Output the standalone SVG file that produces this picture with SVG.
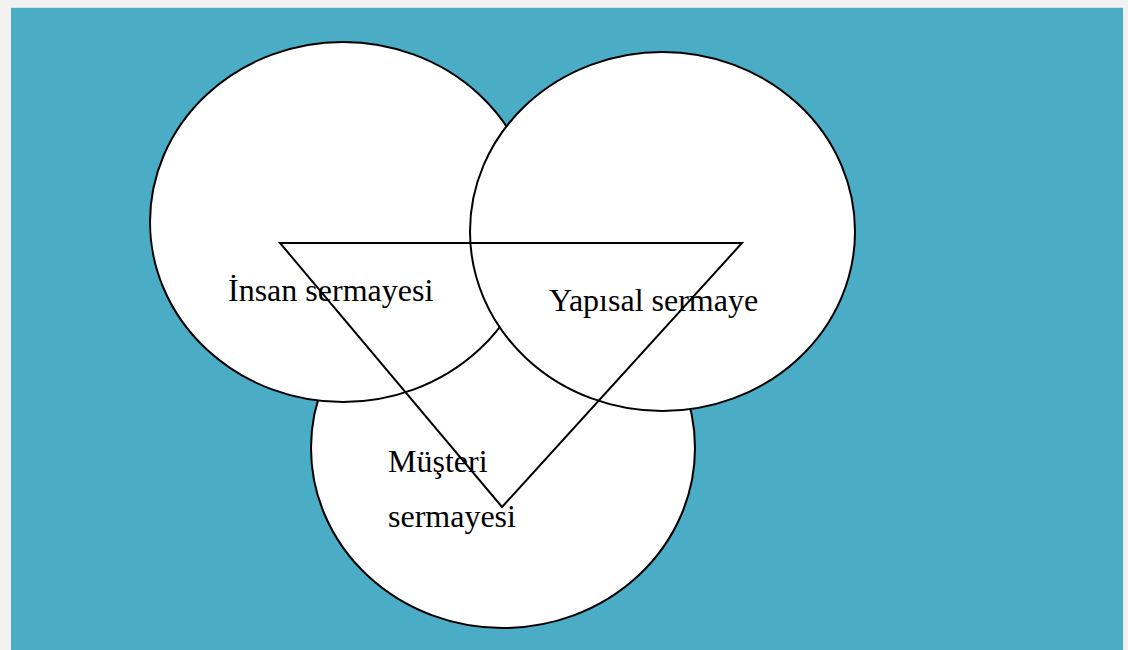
<svg xmlns="http://www.w3.org/2000/svg" width="1128" height="650" viewBox="0 0 1128 650">
<style>
.c{fill:#ffffff;stroke:#000000;stroke-width:2}
.t{font-family:"Liberation Serif","Times New Roman",serif;font-size:32px;fill:#000000}
</style>
<rect x="0" y="0" width="1128" height="650" fill="#f2f2f2"/>
<rect x="11" y="7" width="1112" height="643" fill="#4bacc6"/>
<line x1="11" y1="7.5" x2="1123" y2="7.5" stroke="#cfe3ea" stroke-width="1"/>
<g id="musteri">
<ellipse class="c" cx="503" cy="448" rx="192" ry="180"/>
</g>
<g id="insan">
<ellipse class="c" cx="343" cy="222" rx="193" ry="180"/>
</g>
<g id="yapisal">
<ellipse class="c" cx="662.5" cy="231.5" rx="192.5" ry="179.5"/>
</g>
<g id="connectors">
<polygon points="280,243 742,243 502,507" fill="none" stroke="#000000" stroke-width="2" stroke-linejoin="miter"/>
</g>
<g id="labels">
<text class="t" x="228" y="301">İnsan sermayesi</text>
<text class="t" x="549" y="311">Yapısal sermaye</text>
<text class="t" x="388" y="472">Müşteri</text>
<text class="t" x="388" y="527">sermayesi</text>
</g>
</svg>
